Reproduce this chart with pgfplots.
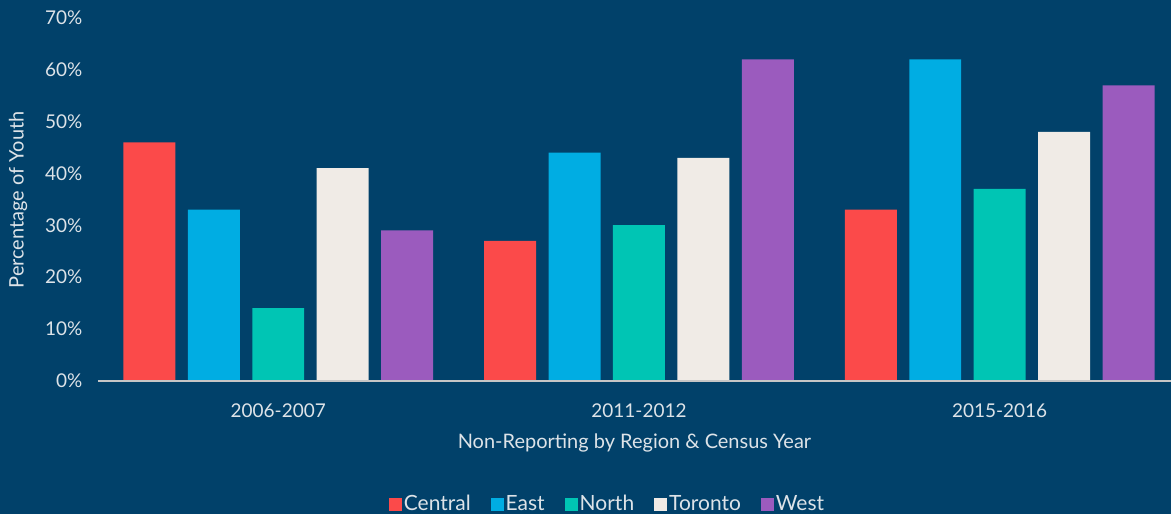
\documentclass[border=0pt]{standalone}
\usepackage{pgfplots}
\pgfplotsset{compat=1.18}
\usepackage{fontspec}
\setmainfont{Lato}
\definecolor{bg}{HTML}{01416A}
\definecolor{txt}{HTML}{DDE3E8}
\definecolor{cCentral}{HTML}{FB4A4A}
\definecolor{cEast}{HTML}{00ADE3}
\definecolor{cNorth}{HTML}{00C5B4}
\definecolor{cToronto}{HTML}{F0EBE6}
\definecolor{cWest}{HTML}{9B5BBE}
\begin{document}
\begin{tikzpicture}
\fill[bg] (0pt,0pt) rectangle (1172pt,514pt);
\begin{axis}[
  at={(98pt,133pt)}, anchor=south west,
  scale only axis, width=1074pt, height=363pt,
  ybar=12.5pt, bar width=52pt,
  xmin=-0.5, xmax=2.475, ymin=0, ymax=70,
  xtick={0,1,2}, xticklabels={2006-2007,2011-2012,2015-2016},
  ytick={0,10,...,70},
  yticklabels={0\%,10\%,20\%,30\%,40\%,50\%,60\%,70\%},
  major tick length=0pt,
  axis lines*=left,
  axis line style={draw=none},
  ticklabel style={font=\fontsize{19}{22}\selectfont, text=txt},
  yticklabel style={xshift=-12pt},
  xticklabel style={yshift=-20pt},
  xlabel={Non-Reporting by Region \& Census Year},
  xlabel style={font=\fontsize{20}{24}\selectfont, text=txt, yshift=-9pt},
  clip=false,
  legend style={draw=none, fill=none, text=txt, font=\fontsize{21}{24}\selectfont,
    at={(0.4749,-0.3388)}, anchor=center, legend columns=5,
    /tikz/every even column/.append style={column sep=18pt}},
  legend cell align=left,
  legend image code/.code={\fill[#1] (0pt,-7pt) rectangle (13pt,6pt);},
]
\addplot[fill=cCentral, draw=none] coordinates {(0,46) (1,27) (2,33)};
\addplot[fill=cEast, draw=none] coordinates {(0,33) (1,44) (2,62)};
\addplot[fill=cNorth, draw=none] coordinates {(0,14) (1,30) (2,37)};
\addplot[fill=cToronto, draw=none] coordinates {(0,41) (1,43) (2,48)};
\addplot[fill=cWest, draw=none] coordinates {(0,29) (1,62) (2,57)};
\legend{Central,East,North,Toronto,West}
\draw[color=lightgray!90, line width=2pt] (rel axis cs:0,0) -- (rel axis cs:1,0);
\end{axis}
\node[rotate=90, text=txt, font=\fontsize{20}{24}\selectfont] at (18pt,314pt) {Percentage of Youth};
\end{tikzpicture}
\end{document}
